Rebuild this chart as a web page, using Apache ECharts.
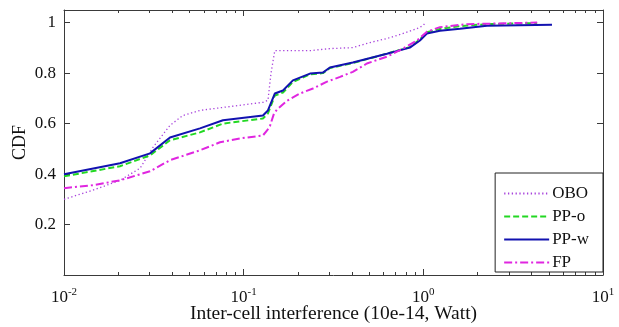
<!DOCTYPE html>
<html>
<head>
<meta charset="utf-8">
<script src="https://cdn.jsdelivr.net/npm/echarts@6/dist/echarts.min.js"></script>
<style>
html,body{margin:0;padding:0;background:#fff;}
#chart{width:619px;height:327px;}
</style>
</head>
<body>
<div id="chart"></div>
<script>
// ---- data ----
const seriesNames = ['OBO', 'PP-o', 'PP-w', 'FP'];

const xOBO = [0.01, 0.01449, 0.0205, 0.0265, 0.0313, 0.0389, 0.0459, 0.0571, 0.0767, 0.128, 0.1365, 0.142, 0.149, 0.234, 0.302, 0.405, 0.505, 0.627, 0.741, 0.921, 0.995, 1.02, 1.03];
const yOBO = [0.300, 0.336, 0.375, 0.423, 0.506, 0.593, 0.632, 0.652, 0.664, 0.684, 0.692, 0.800, 0.889, 0.889, 0.897, 0.901, 0.921, 0.937, 0.953, 0.976, 0.988, 0.990, 1.000];

const xPPo = [0.01, 0.0205, 0.0301, 0.0389, 0.0571, 0.0767, 0.128, 0.1365, 0.149, 0.1655, 0.188, 0.234, 0.276, 0.302, 0.405, 0.627, 0.841, 0.957, 1.047, 1.237, 1.60, 2.26, 4.3];
const yPPo = [0.391, 0.431, 0.474, 0.534, 0.565, 0.600, 0.620, 0.640, 0.711, 0.723, 0.765, 0.795, 0.800, 0.820, 0.840, 0.877, 0.903, 0.933, 0.962, 0.975, 0.986, 0.994, 0.998];

const xPPw = [0.01, 0.0205, 0.0301, 0.0389, 0.0571, 0.0767, 0.128, 0.1365, 0.149, 0.1655, 0.188, 0.234, 0.276, 0.302, 0.405, 0.627, 0.841, 0.957, 1.047, 1.237, 1.60, 2.26, 5.2];
const yPPw = [0.399, 0.443, 0.482, 0.545, 0.581, 0.613, 0.632, 0.652, 0.719, 0.731, 0.771, 0.798, 0.802, 0.822, 0.842, 0.877, 0.901, 0.929, 0.957, 0.968, 0.976, 0.988, 0.992];

const xFP = [0.01, 0.01449, 0.0205, 0.0301, 0.0389, 0.0571, 0.0738, 0.0953, 0.128, 0.135, 0.140, 0.1475, 0.153, 0.174, 0.2056, 0.243, 0.291, 0.344, 0.405, 0.485, 0.627, 0.769, 0.921, 1.047, 1.237, 1.75, 4.3];
const yFP = [0.344, 0.356, 0.375, 0.411, 0.455, 0.494, 0.526, 0.541, 0.553, 0.573, 0.590, 0.640, 0.655, 0.690, 0.719, 0.739, 0.766, 0.785, 0.805, 0.838, 0.865, 0.897, 0.929, 0.964, 0.982, 0.994, 1.000];

const yTicks = [0.2, 0.4, 0.6, 0.8, 1];
const xMajor = [0.01, 0.1, 1, 10];
const xMinor = [2,3,4,5,6,7,8,9].flatMap(m => [0.01, 0.1, 1].map(d => m * d));

const xTitle = 'Inter-cell interference (10e-14, Watt)';
const yTitle = 'CDF';

// ---- chart ----
const FONT = 'Liberation Serif';
const AX = '#3a3a3a';
const pair = (xs, ys) => xs.map((x, i) => [x, ys[i]]);
const expOf = v => Math.round(Math.log10(v));

const tickAxis = (pos, vals, len, showLine) => ({
  type: 'value', position: pos, min: -2, max: 1,
  axisLine: { show: !!showLine, onZero: false, lineStyle: { color: AX, width: 1 } },
  axisTick: { show: true, inside: true, length: len, customValues: vals.map(v => Math.log10(v)), lineStyle: { color: AX } },
  axisLabel: { show: false }, splitLine: { show: false }
});

const chart = echarts.init(document.getElementById('chart'), null, { renderer: 'canvas' });
chart.setOption({
  animation: false,
  backgroundColor: '#fff',
  textStyle: { fontFamily: FONT },
  grid: { left: 64, right: 16, top: 10, bottom: 52, containLabel: false, outerBoundsMode: 'none' },
  legend: {
    data: seriesNames,
    orient: 'vertical',
    right: 16, top: 173,
    itemWidth: 45, itemHeight: 14, itemGap: 6,
    padding: [12, 14, 1, 8],
    borderColor: '#222', borderWidth: 1, borderRadius: 0,
    backgroundColor: '#fff',
    itemStyle: { opacity: 0 },
    textStyle: { fontFamily: FONT, fontSize: 17, color: '#111', padding: [0, 0, 0, -2] }
  },
  xAxis: [
    {
      type: 'log', logBase: 10, min: 0.01, max: 10, position: 'bottom',
      name: xTitle, nameLocation: 'middle', nameGap: 29, nameMoveOverlap: false,
      nameTextStyle: { fontFamily: FONT, fontSize: 19.5, color: '#111' },
      axisLine: { show: true, onZero: false, lineStyle: { color: AX, width: 1 } },
      axisTick: { show: true, inside: true, length: 6, customValues: xMajor, lineStyle: { color: AX } },
      axisLabel: {
        customValues: xMajor,
        margin: 12, color: '#111',
        formatter: v => '{b|10}{s|' + expOf(v) + '}',
        rich: {
          b: { fontFamily: FONT, fontSize: 17, color: '#111' },
          s: { fontFamily: FONT, fontSize: 11, color: '#111', padding: [0, 0, 10, 0] }
        }
      },
      splitLine: { show: false }
    },
    tickAxis('bottom', xMinor, 3),
    tickAxis('top', xMajor, 6, true),
    tickAxis('top', xMinor, 3)
  ],
  yAxis: [
    {
      type: 'value', min: 0, max: 1.05, position: 'left',
      name: yTitle, nameLocation: 'middle', nameGap: 35, nameRotate: 90, nameMoveOverlap: false,
      nameTextStyle: { fontFamily: FONT, fontSize: 18, color: '#111' },
      axisLine: { show: true, onZero: false, lineStyle: { color: AX, width: 1 } },
      axisTick: { show: true, inside: true, length: 6, customValues: yTicks, lineStyle: { color: AX } },
      axisLabel: { customValues: yTicks, margin: 8, fontFamily: FONT, fontSize: 17, color: '#111' },
      splitLine: { show: false }
    },
    {
      type: 'value', min: 0, max: 1.05, position: 'right',
      axisLine: { show: true, onZero: false, lineStyle: { color: AX, width: 1 } },
      axisTick: { show: true, inside: true, length: 6, customValues: yTicks, lineStyle: { color: AX } },
      axisLabel: { show: false }, splitLine: { show: false }
    }
  ],
  series: [
    { name: 'OBO', type: 'line', data: pair(xOBO, yOBO), showSymbol: false, symbol: 'none',
      lineStyle: { color: '#a844dc', width: 1.3, type: [1.3, 2.5] }, itemStyle: { color: '#a844dc' } },
    { name: 'PP-o', type: 'line', data: pair(xPPo, yPPo), showSymbol: false, symbol: 'none',
      lineStyle: { color: '#22d822', width: 2, type: [6, 3] }, itemStyle: { color: '#22d822' } },
    { name: 'PP-w', type: 'line', data: pair(xPPw, yPPw), showSymbol: false, symbol: 'none',
      lineStyle: { color: '#1212b0', width: 2, type: 'solid' }, itemStyle: { color: '#1212b0' } },
    { name: 'FP', type: 'line', data: pair(xFP, yFP), showSymbol: false, symbol: 'none',
      lineStyle: { color: '#e026e0', width: 2, type: [8, 3, 2, 3] }, itemStyle: { color: '#e026e0' } }
  ]
});
</script>
</body>
</html>
